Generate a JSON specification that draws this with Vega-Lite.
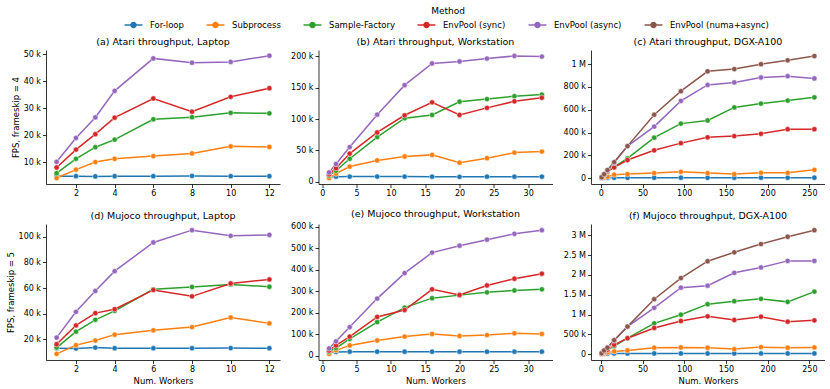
{
 "$schema": "https://vega.github.io/schema/vega-lite/v6.json",
 "padding": {"left": 6, "top": 7, "right": 0, "bottom": 4},
 "datasets": {
  "d": [
   {"panel":"a","workers":1,"method":"For-loop","fps":4900},{"panel":"a","workers":2,"method":"For-loop","fps":4900},{"panel":"a","workers":3,"method":"For-loop","fps":4800},{"panel":"a","workers":4,"method":"For-loop","fps":4900},{"panel":"a","workers":6,"method":"For-loop","fps":4900},{"panel":"a","workers":8,"method":"For-loop","fps":5000},{"panel":"a","workers":10,"method":"For-loop","fps":4900},{"panel":"a","workers":12,"method":"For-loop","fps":4900},
   {"panel":"a","workers":1,"method":"Subprocess","fps":4200},{"panel":"a","workers":2,"method":"Subprocess","fps":7300},{"panel":"a","workers":3,"method":"Subprocess","fps":10100},{"panel":"a","workers":4,"method":"Subprocess","fps":11300},{"panel":"a","workers":6,"method":"Subprocess","fps":12300},{"panel":"a","workers":8,"method":"Subprocess","fps":13300},{"panel":"a","workers":10,"method":"Subprocess","fps":15900},{"panel":"a","workers":12,"method":"Subprocess","fps":15700},
   {"panel":"a","workers":1,"method":"Sample-Factory","fps":6000},{"panel":"a","workers":2,"method":"Sample-Factory","fps":11300},{"panel":"a","workers":3,"method":"Sample-Factory","fps":15600},{"panel":"a","workers":4,"method":"Sample-Factory","fps":18400},{"panel":"a","workers":6,"method":"Sample-Factory","fps":25900},{"panel":"a","workers":8,"method":"Sample-Factory","fps":26700},{"panel":"a","workers":10,"method":"Sample-Factory","fps":28300},{"panel":"a","workers":12,"method":"Sample-Factory","fps":28100},
   {"panel":"a","workers":1,"method":"EnvPool (sync)","fps":8100},{"panel":"a","workers":2,"method":"EnvPool (sync)","fps":14700},{"panel":"a","workers":3,"method":"EnvPool (sync)","fps":20400},{"panel":"a","workers":4,"method":"EnvPool (sync)","fps":26500},{"panel":"a","workers":6,"method":"EnvPool (sync)","fps":33600},{"panel":"a","workers":8,"method":"EnvPool (sync)","fps":28700},{"panel":"a","workers":10,"method":"EnvPool (sync)","fps":34200},{"panel":"a","workers":12,"method":"EnvPool (sync)","fps":37400},
   {"panel":"a","workers":1,"method":"EnvPool (async)","fps":10200},{"panel":"a","workers":2,"method":"EnvPool (async)","fps":19000},{"panel":"a","workers":3,"method":"EnvPool (async)","fps":26600},{"panel":"a","workers":4,"method":"EnvPool (async)","fps":36400},{"panel":"a","workers":6,"method":"EnvPool (async)","fps":48400},{"panel":"a","workers":8,"method":"EnvPool (async)","fps":46800},{"panel":"a","workers":10,"method":"EnvPool (async)","fps":47100},{"panel":"a","workers":12,"method":"EnvPool (async)","fps":49400},

   {"panel":"b","workers":1,"method":"For-loop","fps":8000},{"panel":"b","workers":2,"method":"For-loop","fps":8200},{"panel":"b","workers":4,"method":"For-loop","fps":8300},{"panel":"b","workers":8,"method":"For-loop","fps":8400},{"panel":"b","workers":12,"method":"For-loop","fps":8300},{"panel":"b","workers":16,"method":"For-loop","fps":8200},{"panel":"b","workers":20,"method":"For-loop","fps":8000},{"panel":"b","workers":24,"method":"For-loop","fps":8200},{"panel":"b","workers":28,"method":"For-loop","fps":8100},{"panel":"b","workers":32,"method":"For-loop","fps":8200},
   {"panel":"b","workers":1,"method":"Subprocess","fps":6000},{"panel":"b","workers":2,"method":"Subprocess","fps":12900},{"panel":"b","workers":4,"method":"Subprocess","fps":24300},{"panel":"b","workers":8,"method":"Subprocess","fps":34100},{"panel":"b","workers":12,"method":"Subprocess","fps":40300},{"panel":"b","workers":16,"method":"Subprocess","fps":42900},{"panel":"b","workers":20,"method":"Subprocess","fps":30500},{"panel":"b","workers":24,"method":"Subprocess","fps":37700},{"panel":"b","workers":28,"method":"Subprocess","fps":46500},{"panel":"b","workers":32,"method":"Subprocess","fps":48100},
   {"panel":"b","workers":1,"method":"Sample-Factory","fps":10000},{"panel":"b","workers":2,"method":"Sample-Factory","fps":17600},{"panel":"b","workers":4,"method":"Sample-Factory","fps":36700},{"panel":"b","workers":8,"method":"Sample-Factory","fps":71300},{"panel":"b","workers":12,"method":"Sample-Factory","fps":101300},{"panel":"b","workers":16,"method":"Sample-Factory","fps":106500},{"panel":"b","workers":20,"method":"Sample-Factory","fps":127600},{"panel":"b","workers":24,"method":"Sample-Factory","fps":131800},{"panel":"b","workers":28,"method":"Sample-Factory","fps":136400},{"panel":"b","workers":32,"method":"Sample-Factory","fps":139000},
   {"panel":"b","workers":1,"method":"EnvPool (sync)","fps":12000},{"panel":"b","workers":2,"method":"EnvPool (sync)","fps":21700},{"panel":"b","workers":4,"method":"EnvPool (sync)","fps":45000},{"panel":"b","workers":8,"method":"EnvPool (sync)","fps":78600},{"panel":"b","workers":12,"method":"EnvPool (sync)","fps":106000},{"panel":"b","workers":16,"method":"EnvPool (sync)","fps":126600},{"panel":"b","workers":20,"method":"EnvPool (sync)","fps":106500},{"panel":"b","workers":24,"method":"EnvPool (sync)","fps":117800},{"panel":"b","workers":28,"method":"EnvPool (sync)","fps":128200},{"panel":"b","workers":32,"method":"EnvPool (sync)","fps":133900},
   {"panel":"b","workers":1,"method":"EnvPool (async)","fps":15000},{"panel":"b","workers":2,"method":"EnvPool (async)","fps":28400},{"panel":"b","workers":4,"method":"EnvPool (async)","fps":55300},{"panel":"b","workers":8,"method":"EnvPool (async)","fps":107000},{"panel":"b","workers":12,"method":"EnvPool (async)","fps":154000},{"panel":"b","workers":16,"method":"EnvPool (async)","fps":188600},{"panel":"b","workers":20,"method":"EnvPool (async)","fps":191700},{"panel":"b","workers":24,"method":"EnvPool (async)","fps":196400},{"panel":"b","workers":28,"method":"EnvPool (async)","fps":200500},{"panel":"b","workers":32,"method":"EnvPool (async)","fps":199500},

   {"panel":"c","workers":1,"method":"For-loop","fps":3000},{"panel":"c","workers":4,"method":"For-loop","fps":4000},{"panel":"c","workers":8,"method":"For-loop","fps":5000},{"panel":"c","workers":16,"method":"For-loop","fps":5000},{"panel":"c","workers":32,"method":"For-loop","fps":5000},{"panel":"c","workers":64,"method":"For-loop","fps":5000},{"panel":"c","workers":96,"method":"For-loop","fps":5000},{"panel":"c","workers":128,"method":"For-loop","fps":5000},{"panel":"c","workers":160,"method":"For-loop","fps":5000},{"panel":"c","workers":192,"method":"For-loop","fps":5000},{"panel":"c","workers":224,"method":"For-loop","fps":5000},{"panel":"c","workers":256,"method":"For-loop","fps":5000},
   {"panel":"c","workers":1,"method":"Subprocess","fps":3000},{"panel":"c","workers":4,"method":"Subprocess","fps":8000},{"panel":"c","workers":8,"method":"Subprocess","fps":15000},{"panel":"c","workers":16,"method":"Subprocess","fps":31000},{"panel":"c","workers":32,"method":"Subprocess","fps":37000},{"panel":"c","workers":64,"method":"Subprocess","fps":46000},{"panel":"c","workers":96,"method":"Subprocess","fps":57000},{"panel":"c","workers":128,"method":"Subprocess","fps":46000},{"panel":"c","workers":160,"method":"Subprocess","fps":37000},{"panel":"c","workers":192,"method":"Subprocess","fps":48000},{"panel":"c","workers":224,"method":"Subprocess","fps":48000},{"panel":"c","workers":256,"method":"Subprocess","fps":74000},
   {"panel":"c","workers":1,"method":"Sample-Factory","fps":5000},{"panel":"c","workers":4,"method":"Sample-Factory","fps":25000},{"panel":"c","workers":8,"method":"Sample-Factory","fps":55000},{"panel":"c","workers":16,"method":"Sample-Factory","fps":100000},{"panel":"c","workers":32,"method":"Sample-Factory","fps":174000},{"panel":"c","workers":64,"method":"Sample-Factory","fps":356000},{"panel":"c","workers":96,"method":"Sample-Factory","fps":479000},{"panel":"c","workers":128,"method":"Sample-Factory","fps":507000},{"panel":"c","workers":160,"method":"Sample-Factory","fps":621000},{"panel":"c","workers":192,"method":"Sample-Factory","fps":655000},{"panel":"c","workers":224,"method":"Sample-Factory","fps":681000},{"panel":"c","workers":256,"method":"Sample-Factory","fps":709000},
   {"panel":"c","workers":1,"method":"EnvPool (sync)","fps":5000},{"panel":"c","workers":4,"method":"EnvPool (sync)","fps":30000},{"panel":"c","workers":8,"method":"EnvPool (sync)","fps":60000},{"panel":"c","workers":16,"method":"EnvPool (sync)","fps":95000},{"panel":"c","workers":32,"method":"EnvPool (sync)","fps":160000},{"panel":"c","workers":64,"method":"EnvPool (sync)","fps":245000},{"panel":"c","workers":96,"method":"EnvPool (sync)","fps":308000},{"panel":"c","workers":128,"method":"EnvPool (sync)","fps":359000},{"panel":"c","workers":160,"method":"EnvPool (sync)","fps":370000},{"panel":"c","workers":192,"method":"EnvPool (sync)","fps":390000},{"panel":"c","workers":224,"method":"EnvPool (sync)","fps":430000},{"panel":"c","workers":256,"method":"EnvPool (sync)","fps":430000},
   {"panel":"c","workers":1,"method":"EnvPool (async)","fps":8000},{"panel":"c","workers":4,"method":"EnvPool (async)","fps":35000},{"panel":"c","workers":8,"method":"EnvPool (async)","fps":70000},{"panel":"c","workers":16,"method":"EnvPool (async)","fps":135000},{"panel":"c","workers":32,"method":"EnvPool (async)","fps":282000},{"panel":"c","workers":64,"method":"EnvPool (async)","fps":453000},{"panel":"c","workers":96,"method":"EnvPool (async)","fps":678000},{"panel":"c","workers":128,"method":"EnvPool (async)","fps":818000},{"panel":"c","workers":160,"method":"EnvPool (async)","fps":840000},{"panel":"c","workers":192,"method":"EnvPool (async)","fps":883000},{"panel":"c","workers":224,"method":"EnvPool (async)","fps":895000},{"panel":"c","workers":256,"method":"EnvPool (async)","fps":875000},
   {"panel":"c","workers":1,"method":"EnvPool (numa+async)","fps":9000},{"panel":"c","workers":4,"method":"EnvPool (numa+async)","fps":36000},{"panel":"c","workers":8,"method":"EnvPool (numa+async)","fps":72000},{"panel":"c","workers":16,"method":"EnvPool (numa+async)","fps":142000},{"panel":"c","workers":32,"method":"EnvPool (numa+async)","fps":282000},{"panel":"c","workers":64,"method":"EnvPool (numa+async)","fps":557000},{"panel":"c","workers":96,"method":"EnvPool (numa+async)","fps":763000},{"panel":"c","workers":128,"method":"EnvPool (numa+async)","fps":937000},{"panel":"c","workers":160,"method":"EnvPool (numa+async)","fps":957000},{"panel":"c","workers":192,"method":"EnvPool (numa+async)","fps":1000000},{"panel":"c","workers":224,"method":"EnvPool (numa+async)","fps":1034000},{"panel":"c","workers":256,"method":"EnvPool (numa+async)","fps":1071000},

   {"panel":"d","workers":1,"method":"For-loop","fps":13000},{"panel":"d","workers":2,"method":"For-loop","fps":12800},{"panel":"d","workers":3,"method":"For-loop","fps":13500},{"panel":"d","workers":4,"method":"For-loop","fps":13000},{"panel":"d","workers":6,"method":"For-loop","fps":13000},{"panel":"d","workers":8,"method":"For-loop","fps":13000},{"panel":"d","workers":10,"method":"For-loop","fps":13100},{"panel":"d","workers":12,"method":"For-loop","fps":13000},
   {"panel":"d","workers":1,"method":"Subprocess","fps":8600},{"panel":"d","workers":2,"method":"Subprocess","fps":15400},{"panel":"d","workers":3,"method":"Subprocess","fps":19000},{"panel":"d","workers":4,"method":"Subprocess","fps":23600},{"panel":"d","workers":6,"method":"Subprocess","fps":27000},{"panel":"d","workers":8,"method":"Subprocess","fps":29500},{"panel":"d","workers":10,"method":"Subprocess","fps":37000},{"panel":"d","workers":12,"method":"Subprocess","fps":32400},
   {"panel":"d","workers":1,"method":"Sample-Factory","fps":13500},{"panel":"d","workers":2,"method":"Sample-Factory","fps":25900},{"panel":"d","workers":3,"method":"Sample-Factory","fps":35200},{"panel":"d","workers":4,"method":"Sample-Factory","fps":42200},{"panel":"d","workers":6,"method":"Sample-Factory","fps":59000},{"panel":"d","workers":8,"method":"Sample-Factory","fps":60800},{"panel":"d","workers":10,"method":"Sample-Factory","fps":62800},{"panel":"d","workers":12,"method":"Sample-Factory","fps":61000},
   {"panel":"d","workers":1,"method":"EnvPool (sync)","fps":16100},{"panel":"d","workers":2,"method":"EnvPool (sync)","fps":30800},{"panel":"d","workers":3,"method":"EnvPool (sync)","fps":40400},{"panel":"d","workers":4,"method":"EnvPool (sync)","fps":43500},{"panel":"d","workers":6,"method":"EnvPool (sync)","fps":58500},{"panel":"d","workers":8,"method":"EnvPool (sync)","fps":53500},{"panel":"d","workers":10,"method":"EnvPool (sync)","fps":63600},{"panel":"d","workers":12,"method":"EnvPool (sync)","fps":66700},
   {"panel":"d","workers":1,"method":"EnvPool (async)","fps":21300},{"panel":"d","workers":2,"method":"EnvPool (async)","fps":41400},{"panel":"d","workers":3,"method":"EnvPool (async)","fps":57700},{"panel":"d","workers":4,"method":"EnvPool (async)","fps":73200},{"panel":"d","workers":6,"method":"EnvPool (async)","fps":95600},{"panel":"d","workers":8,"method":"EnvPool (async)","fps":105200},{"panel":"d","workers":10,"method":"EnvPool (async)","fps":100800},{"panel":"d","workers":12,"method":"EnvPool (async)","fps":101500},

   {"panel":"e","workers":1,"method":"For-loop","fps":17000},{"panel":"e","workers":2,"method":"For-loop","fps":19000},{"panel":"e","workers":4,"method":"For-loop","fps":20000},{"panel":"e","workers":8,"method":"For-loop","fps":20000},{"panel":"e","workers":12,"method":"For-loop","fps":20000},{"panel":"e","workers":16,"method":"For-loop","fps":20000},{"panel":"e","workers":20,"method":"For-loop","fps":20000},{"panel":"e","workers":24,"method":"For-loop","fps":20000},{"panel":"e","workers":28,"method":"For-loop","fps":20000},{"panel":"e","workers":32,"method":"For-loop","fps":20000},
   {"panel":"e","workers":1,"method":"Subprocess","fps":10000},{"panel":"e","workers":2,"method":"Subprocess","fps":26000},{"panel":"e","workers":4,"method":"Subprocess","fps":49000},{"panel":"e","workers":8,"method":"Subprocess","fps":72000},{"panel":"e","workers":12,"method":"Subprocess","fps":90000},{"panel":"e","workers":16,"method":"Subprocess","fps":102000},{"panel":"e","workers":20,"method":"Subprocess","fps":93000},{"panel":"e","workers":24,"method":"Subprocess","fps":97000},{"panel":"e","workers":28,"method":"Subprocess","fps":105000},{"panel":"e","workers":32,"method":"Subprocess","fps":102000},
   {"panel":"e","workers":1,"method":"Sample-Factory","fps":20000},{"panel":"e","workers":2,"method":"Sample-Factory","fps":37000},{"panel":"e","workers":4,"method":"Sample-Factory","fps":79000},{"panel":"e","workers":8,"method":"Sample-Factory","fps":157000},{"panel":"e","workers":12,"method":"Sample-Factory","fps":224000},{"panel":"e","workers":16,"method":"Sample-Factory","fps":268000},{"panel":"e","workers":20,"method":"Sample-Factory","fps":282000},{"panel":"e","workers":24,"method":"Sample-Factory","fps":295000},{"panel":"e","workers":28,"method":"Sample-Factory","fps":304000},{"panel":"e","workers":32,"method":"Sample-Factory","fps":309000},
   {"panel":"e","workers":1,"method":"EnvPool (sync)","fps":25000},{"panel":"e","workers":2,"method":"EnvPool (sync)","fps":49000},{"panel":"e","workers":4,"method":"EnvPool (sync)","fps":90000},{"panel":"e","workers":8,"method":"EnvPool (sync)","fps":181000},{"panel":"e","workers":12,"method":"EnvPool (sync)","fps":213000},{"panel":"e","workers":16,"method":"EnvPool (sync)","fps":309000},{"panel":"e","workers":20,"method":"EnvPool (sync)","fps":283000},{"panel":"e","workers":24,"method":"EnvPool (sync)","fps":327000},{"panel":"e","workers":28,"method":"EnvPool (sync)","fps":358000},{"panel":"e","workers":32,"method":"EnvPool (sync)","fps":381000},
   {"panel":"e","workers":1,"method":"EnvPool (async)","fps":35000},{"panel":"e","workers":2,"method":"EnvPool (async)","fps":68000},{"panel":"e","workers":4,"method":"EnvPool (async)","fps":134000},{"panel":"e","workers":8,"method":"EnvPool (async)","fps":266000},{"panel":"e","workers":12,"method":"EnvPool (async)","fps":384000},{"panel":"e","workers":16,"method":"EnvPool (async)","fps":479000},{"panel":"e","workers":20,"method":"EnvPool (async)","fps":511000},{"panel":"e","workers":24,"method":"EnvPool (async)","fps":539000},{"panel":"e","workers":28,"method":"EnvPool (async)","fps":566000},{"panel":"e","workers":32,"method":"EnvPool (async)","fps":583000},

   {"panel":"f","workers":1,"method":"For-loop","fps":5000},{"panel":"f","workers":4,"method":"For-loop","fps":10000},{"panel":"f","workers":8,"method":"For-loop","fps":12000},{"panel":"f","workers":16,"method":"For-loop","fps":15000},{"panel":"f","workers":32,"method":"For-loop","fps":15000},{"panel":"f","workers":64,"method":"For-loop","fps":15000},{"panel":"f","workers":96,"method":"For-loop","fps":15000},{"panel":"f","workers":128,"method":"For-loop","fps":15000},{"panel":"f","workers":160,"method":"For-loop","fps":15000},{"panel":"f","workers":192,"method":"For-loop","fps":15000},{"panel":"f","workers":224,"method":"For-loop","fps":15000},{"panel":"f","workers":256,"method":"For-loop","fps":15000},
   {"panel":"f","workers":1,"method":"Subprocess","fps":5000},{"panel":"f","workers":4,"method":"Subprocess","fps":20000},{"panel":"f","workers":8,"method":"Subprocess","fps":40000},{"panel":"f","workers":16,"method":"Subprocess","fps":67000},{"panel":"f","workers":32,"method":"Subprocess","fps":92000},{"panel":"f","workers":64,"method":"Subprocess","fps":159000},{"panel":"f","workers":96,"method":"Subprocess","fps":167000},{"panel":"f","workers":128,"method":"Subprocess","fps":159000},{"panel":"f","workers":160,"method":"Subprocess","fps":125000},{"panel":"f","workers":192,"method":"Subprocess","fps":175000},{"panel":"f","workers":224,"method":"Subprocess","fps":159000},{"panel":"f","workers":256,"method":"Subprocess","fps":167000},
   {"panel":"f","workers":1,"method":"Sample-Factory","fps":10000},{"panel":"f","workers":4,"method":"Sample-Factory","fps":50000},{"panel":"f","workers":8,"method":"Sample-Factory","fps":100000},{"panel":"f","workers":16,"method":"Sample-Factory","fps":200000},{"panel":"f","workers":32,"method":"Sample-Factory","fps":401000},{"panel":"f","workers":64,"method":"Sample-Factory","fps":777000},{"panel":"f","workers":96,"method":"Sample-Factory","fps":994000},{"panel":"f","workers":128,"method":"Sample-Factory","fps":1262000},{"panel":"f","workers":160,"method":"Sample-Factory","fps":1337000},{"panel":"f","workers":192,"method":"Sample-Factory","fps":1396000},{"panel":"f","workers":224,"method":"Sample-Factory","fps":1320000},{"panel":"f","workers":256,"method":"Sample-Factory","fps":1579000},
   {"panel":"f","workers":1,"method":"EnvPool (sync)","fps":10000},{"panel":"f","workers":4,"method":"EnvPool (sync)","fps":60000},{"panel":"f","workers":8,"method":"EnvPool (sync)","fps":110000},{"panel":"f","workers":16,"method":"EnvPool (sync)","fps":234000},{"panel":"f","workers":32,"method":"EnvPool (sync)","fps":401000},{"panel":"f","workers":64,"method":"EnvPool (sync)","fps":660000},{"panel":"f","workers":96,"method":"EnvPool (sync)","fps":836000},{"panel":"f","workers":128,"method":"EnvPool (sync)","fps":953000},{"panel":"f","workers":160,"method":"EnvPool (sync)","fps":861000},{"panel":"f","workers":192,"method":"EnvPool (sync)","fps":944000},{"panel":"f","workers":224,"method":"EnvPool (sync)","fps":819000},{"panel":"f","workers":256,"method":"EnvPool (sync)","fps":852000},
   {"panel":"f","workers":1,"method":"EnvPool (async)","fps":20000},{"panel":"f","workers":4,"method":"EnvPool (async)","fps":92000},{"panel":"f","workers":8,"method":"EnvPool (async)","fps":170000},{"panel":"f","workers":16,"method":"EnvPool (async)","fps":343000},{"panel":"f","workers":32,"method":"EnvPool (async)","fps":694000},{"panel":"f","workers":64,"method":"EnvPool (async)","fps":1170000},{"panel":"f","workers":96,"method":"EnvPool (async)","fps":1680000},{"panel":"f","workers":128,"method":"EnvPool (async)","fps":1730000},{"panel":"f","workers":160,"method":"EnvPool (async)","fps":2056000},{"panel":"f","workers":192,"method":"EnvPool (async)","fps":2190000},{"panel":"f","workers":224,"method":"EnvPool (async)","fps":2357000},{"panel":"f","workers":256,"method":"EnvPool (async)","fps":2357000},
   {"panel":"f","workers":1,"method":"EnvPool (numa+async)","fps":20000},{"panel":"f","workers":4,"method":"EnvPool (numa+async)","fps":90000},{"panel":"f","workers":8,"method":"EnvPool (numa+async)","fps":159000},{"panel":"f","workers":16,"method":"EnvPool (numa+async)","fps":351000},{"panel":"f","workers":32,"method":"EnvPool (numa+async)","fps":694000},{"panel":"f","workers":64,"method":"EnvPool (numa+async)","fps":1387000},{"panel":"f","workers":96,"method":"EnvPool (numa+async)","fps":1922000},{"panel":"f","workers":128,"method":"EnvPool (numa+async)","fps":2348000},{"panel":"f","workers":160,"method":"EnvPool (numa+async)","fps":2574000},{"panel":"f","workers":192,"method":"EnvPool (numa+async)","fps":2783000},{"panel":"f","workers":224,"method":"EnvPool (numa+async)","fps":2967000},{"panel":"f","workers":256,"method":"EnvPool (numa+async)","fps":3134000}
  ]
 },
 "data": {"name": "d"},
 "config": {
  "font": "DejaVu Sans",
  "view": {"stroke": null},
  "axis": {"grid": false, "domainColor": "#000", "tickColor": "#000", "labelColor": "#000", "titleColor": "#000", "labelFontSize": 8, "titleFontSize": 8.5, "titleFontWeight": "normal", "tickSize": 3.5, "labelPadding": 2, "domainWidth": 0.8, "tickWidth": 0.8, "titlePadding": 3},
  "axisY": {"labelExpr": "datum.value == 0 ? '0' : (datum.value >= 1000000 ? format(datum.value / 1000000, '~g') + ' M' : format(datum.value / 1000, '~g') + ' k')"},
  "title": {"fontSize": 9.5, "fontWeight": "normal", "color": "#000", "offset": 4}
 },
 "columns": 3,
 "bounds": "flush",
 "align": "all",
 "spacing": {"row": 38, "column": 38.5},
 "resolve": {"scale": {"x": "independent", "y": "independent"}},
 "concat": [
  {
   "width": 234, "height": 134,
   "title": "(a) Atari throughput, Laptop",
   "transform": [{"filter": "datum.panel == 'a'"}],
   "encoding": {
    "x": {"field": "workers", "type": "quantitative", "scale": {"domain": [0.45, 12.55], "nice": false, "zero": false}, "axis": {"values": [2, 4, 6, 8, 10, 12], "title": null}},
    "y": {"field": "fps", "type": "quantitative", "scale": {"domain": [2000, 51500], "nice": false, "zero": false}, "axis": {"values": [10000, 20000, 30000, 40000, 50000], "title": "FPS, frameskip = 4"}},
    "color": {"field": "method", "type": "nominal",
     "scale": {"domain": ["For-loop", "Subprocess", "Sample-Factory", "EnvPool (sync)", "EnvPool (async)", "EnvPool (numa+async)"], "range": ["#1f77b4", "#ff7f0e", "#2ca02c", "#d62728", "#9467bd", "#8c564b"]},
     "legend": {"orient": "none", "legendX": 81, "legendY": -43, "direction": "horizontal", "columns": 6, "title": "Method", "titleAnchor": "middle", "titleFontSize": 9, "titleFontWeight": "normal", "titleColor": "#000", "titlePadding": 2, "labelFontSize": 8.5, "labelColor": "#000", "symbolType": "M-1.6,0H1.6M-0.45,0A0.45,0.45 0 1 0 0.45,0A0.45,0.45 0 1 0 -0.45,0", "symbolSize": 125, "symbolStrokeWidth": 1.5, "symbolOpacity": 1, "columnPadding": 19, "labelOffset": 10,
      "encode": {"symbols": {"update": {"fill": {"scale": "color", "field": "value"}, "stroke": {"scale": "color", "field": "value"}}}}}
    }
   },
   "layer": [
    {"mark": {"type": "line", "strokeWidth": 1.5}},
    {"mark": {"type": "point", "filled": true, "size": 28, "opacity": 1, "stroke": "white", "strokeWidth": 0.5}}
   ]
  },
  {
   "width": 234, "height": 134,
   "title": "(b) Atari throughput, Workstation",
   "transform": [{"filter": "datum.panel == 'b'"}],
   "encoding": {
    "x": {"field": "workers", "type": "quantitative", "scale": {"domain": [-0.55, 33.55], "nice": false, "zero": false}, "axis": {"values": [0, 5, 10, 15, 20, 25, 30], "title": null}},
    "y": {"field": "fps", "type": "quantitative", "scale": {"domain": [-3500, 210000], "nice": false, "zero": false}, "axis": {"values": [0, 50000, 100000, 150000, 200000], "title": null}},
    "color": {"field": "method", "type": "nominal"}
   },
   "layer": [
    {"mark": {"type": "line", "strokeWidth": 1.5}},
    {"mark": {"type": "point", "filled": true, "size": 28, "opacity": 1, "stroke": "white", "strokeWidth": 0.5}}
   ]
  },
  {
   "width": 234, "height": 134,
   "title": "(c) Atari throughput, DGX-A100",
   "transform": [{"filter": "datum.panel == 'c'"}],
   "encoding": {
    "x": {"field": "workers", "type": "quantitative", "scale": {"domain": [-11.75, 268.75], "nice": false, "zero": false}, "axis": {"values": [0, 50, 100, 150, 200, 250], "title": null}},
    "y": {"field": "fps", "type": "quantitative", "scale": {"domain": [-50000, 1124000], "nice": false, "zero": false}, "axis": {"values": [0, 200000, 400000, 600000, 800000, 1000000], "title": null}},
    "color": {"field": "method", "type": "nominal"}
   },
   "layer": [
    {"mark": {"type": "line", "strokeWidth": 1.5}},
    {"mark": {"type": "point", "filled": true, "size": 28, "opacity": 1, "stroke": "white", "strokeWidth": 0.5}}
   ]
  },
  {
   "width": 234, "height": 136,
   "title": "(d) Mujoco throughput, Laptop",
   "transform": [{"filter": "datum.panel == 'd'"}],
   "encoding": {
    "x": {"field": "workers", "type": "quantitative", "scale": {"domain": [0.45, 12.55], "nice": false, "zero": false}, "axis": {"values": [2, 4, 6, 8, 10, 12], "title": "Num. Workers"}},
    "y": {"field": "fps", "type": "quantitative", "scale": {"domain": [3800, 110000], "nice": false, "zero": false}, "axis": {"values": [20000, 40000, 60000, 80000, 100000], "title": "FPS, frameskip = 5"}},
    "color": {"field": "method", "type": "nominal"}
   },
   "layer": [
    {"mark": {"type": "line", "strokeWidth": 1.5}},
    {"mark": {"type": "point", "filled": true, "size": 28, "opacity": 1, "stroke": "white", "strokeWidth": 0.5}}
   ]
  },
  {
   "width": 234, "height": 136,
   "title": "(e) Mujoco throughput, Workstation",
   "transform": [{"filter": "datum.panel == 'e'"}],
   "encoding": {
    "x": {"field": "workers", "type": "quantitative", "scale": {"domain": [-0.55, 33.55], "nice": false, "zero": false}, "axis": {"values": [0, 5, 10, 15, 20, 25, 30], "title": "Num. Workers"}},
    "y": {"field": "fps", "type": "quantitative", "scale": {"domain": [-18600, 611600], "nice": false, "zero": false}, "axis": {"values": [0, 100000, 200000, 300000, 400000, 500000, 600000], "title": null}},
    "color": {"field": "method", "type": "nominal"}
   },
   "layer": [
    {"mark": {"type": "line", "strokeWidth": 1.5}},
    {"mark": {"type": "point", "filled": true, "size": 28, "opacity": 1, "stroke": "white", "strokeWidth": 0.5}}
   ]
  },
  {
   "width": 234, "height": 136,
   "title": "(f) Mujoco throughput, DGX-A100",
   "transform": [{"filter": "datum.panel == 'f'"}],
   "encoding": {
    "x": {"field": "workers", "type": "quantitative", "scale": {"domain": [-11.75, 268.75], "nice": false, "zero": false}, "axis": {"values": [0, 50, 100, 150, 200, 250], "title": "Num. Workers"}},
    "y": {"field": "fps", "type": "quantitative", "scale": {"domain": [-151000, 3290000], "nice": false, "zero": false}, "axis": {"values": [0, 500000, 1000000, 1500000, 2000000, 2500000, 3000000], "title": null}},
    "color": {"field": "method", "type": "nominal"}
   },
   "layer": [
    {"mark": {"type": "line", "strokeWidth": 1.5}},
    {"mark": {"type": "point", "filled": true, "size": 28, "opacity": 1, "stroke": "white", "strokeWidth": 0.5}}
   ]
  }
 ]
}
